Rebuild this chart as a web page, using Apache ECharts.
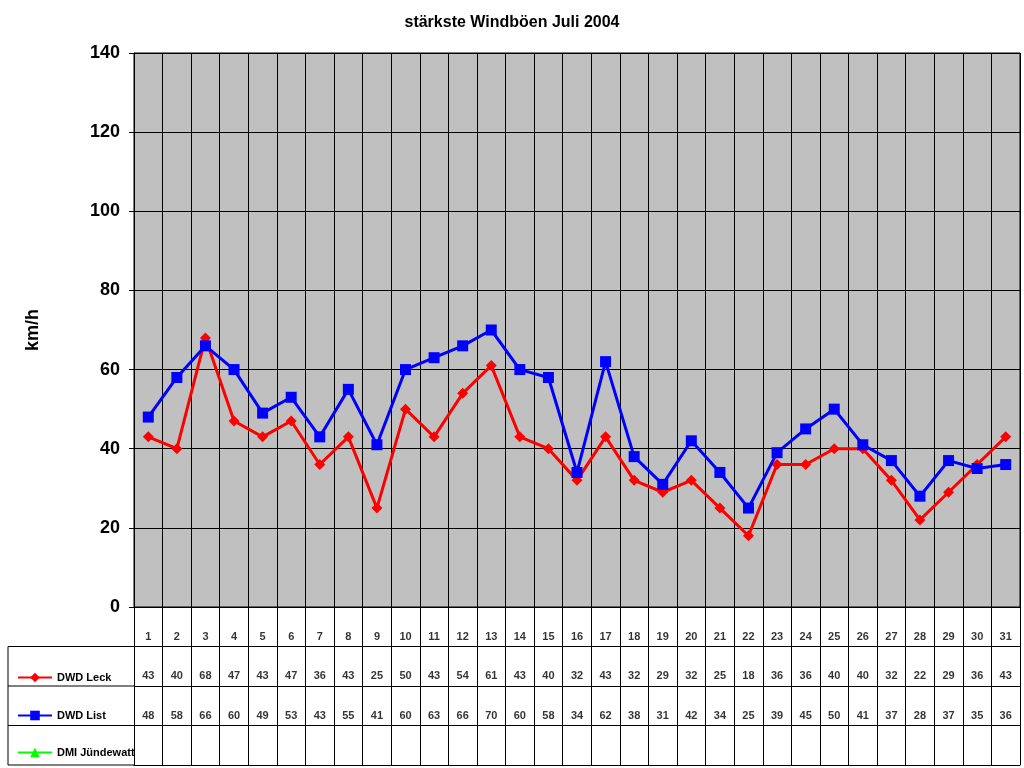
<!DOCTYPE html>
<html><head><meta charset="utf-8">
<script src="https://cdn.jsdelivr.net/npm/echarts@6/dist/echarts.min.js"></script>
<style>html,body{margin:0;padding:0;background:#fff}#c{width:1024px;height:768px}</style>
</head><body><div id="c"></div>
<script>
const days = Array.from({length:31},(_,i)=>String(i+1));
const leck = [43,40,68,47,43,47,36,43,25,50,43,54,61,43,40,32,43,32,29,32,25,18,36,36,40,40,32,22,29,36,43];
const list = [48,58,66,60,49,53,43,55,41,60,63,66,70,60,58,34,62,38,31,42,34,25,39,45,50,41,37,28,37,35,36];
const yTicks = [0,20,40,60,80,100,120,140];
const font = 'Arial, "Liberation Sans", sans-serif';
const chart = echarts.init(document.getElementById('c'));
const tbl = [];
days.forEach((d,i)=>{
  tbl.push([i,3.25,d]);
  tbl.push([i,2.25,String(leck[i])]);
  tbl.push([i,1.25,String(list[i])]);
});
const mkLegend = (name, top) => ({
  data:[name], left:12, top:top, orient:'vertical', itemWidth:34, itemHeight:12,
  textStyle:{fontFamily:font,fontSize:11,fontWeight:'bold',color:'#000'}, selectedMode:false
});
const bk = '#000';
chart.setOption({
  animation:false,
  title:{text:'stärkste Windböen Juli 2004',left:'center',top:10,textStyle:{fontFamily:font,fontSize:16,fontWeight:'bold',color:'#000'}},
  legend:[mkLegend('DWD Leck',667),mkLegend('DWD List',705),mkLegend('DMI Jündewatt',742)],
  grid:[
    {left:134,right:4,top:53,bottom:161,show:true,backgroundColor:'#c0c0c0',borderColor:bk,borderWidth:1},
    {left:134,right:4,top:607,height:158,show:false}
  ],
  xAxis:[
    {type:'category',data:days,gridIndex:0,boundaryGap:true,axisLabel:{show:false},axisTick:{show:false},
     axisLine:{lineStyle:{color:bk}},splitLine:{show:true,lineStyle:{color:bk,width:1}}},
    {type:'category',data:days,gridIndex:1,boundaryGap:true,axisLabel:{show:false},axisTick:{show:false},
     axisLine:{show:true,lineStyle:{color:bk}},splitLine:{show:true,lineStyle:{color:bk,width:1}}}
  ],
  yAxis:[
    {type:'value',gridIndex:0,min:0,max:140,interval:20,name:'km/h',nameLocation:'middle',nameGap:92,nameRotate:90,
     nameTextStyle:{fontFamily:font,fontSize:18,fontWeight:'bold',color:'#000'},
     axisLabel:{fontFamily:font,fontSize:18,fontWeight:'bold',color:'#000',margin:14,formatter:v=>yTicks.includes(v)?String(v):''},
     axisLine:{show:true,lineStyle:{color:bk}},axisTick:{show:true,length:5,lineStyle:{color:bk}},
     splitLine:{show:true,lineStyle:{color:bk,width:1}}},
    {type:'value',gridIndex:1,min:0,max:4,interval:1,axisLabel:{show:false},axisTick:{show:false},
     axisLine:{show:true,lineStyle:{color:bk}},splitLine:{show:true,lineStyle:{color:bk,width:1}}}
  ],
  graphic:[
    {type:'line',shape:{x1:8,y1:646.5,x2:134,y2:646.5},style:{stroke:bk,lineWidth:1}},
    {type:'line',shape:{x1:8,y1:686,x2:134,y2:686},style:{stroke:bk,lineWidth:1}},
    {type:'line',shape:{x1:8,y1:725.5,x2:134,y2:725.5},style:{stroke:bk,lineWidth:1}},
    {type:'line',shape:{x1:8,y1:765,x2:134,y2:765},style:{stroke:bk,lineWidth:1}},
    {type:'line',shape:{x1:8,y1:646.5,x2:8,y2:765},style:{stroke:bk,lineWidth:1}}
  ],
  series:[
    {name:'DWD Leck',type:'line',data:leck,xAxisIndex:0,yAxisIndex:0,symbol:'diamond',symbolSize:11,
     lineStyle:{color:'#ff0000',width:3},itemStyle:{color:'#ff0000'},z:3},
    {name:'DWD List',type:'line',data:list,xAxisIndex:0,yAxisIndex:0,symbol:'rect',symbolSize:11,
     lineStyle:{color:'#0000ff',width:3},itemStyle:{color:'#0000ff'},z:4},
    {name:'DMI Jündewatt',type:'line',data:[],xAxisIndex:0,yAxisIndex:0,symbol:'triangle',symbolSize:11,
     lineStyle:{color:'#00ff00',width:3},itemStyle:{color:'#00ff00'}},
    {type:'scatter',xAxisIndex:1,yAxisIndex:1,data:tbl,symbolSize:1,itemStyle:{color:'rgba(0,0,0,0)'},silent:true,
     label:{show:true,position:'inside',formatter:p=>p.data[2],fontFamily:font,fontSize:11,fontWeight:'bold',color:'#000'}}
  ]
});
</script></body></html>
